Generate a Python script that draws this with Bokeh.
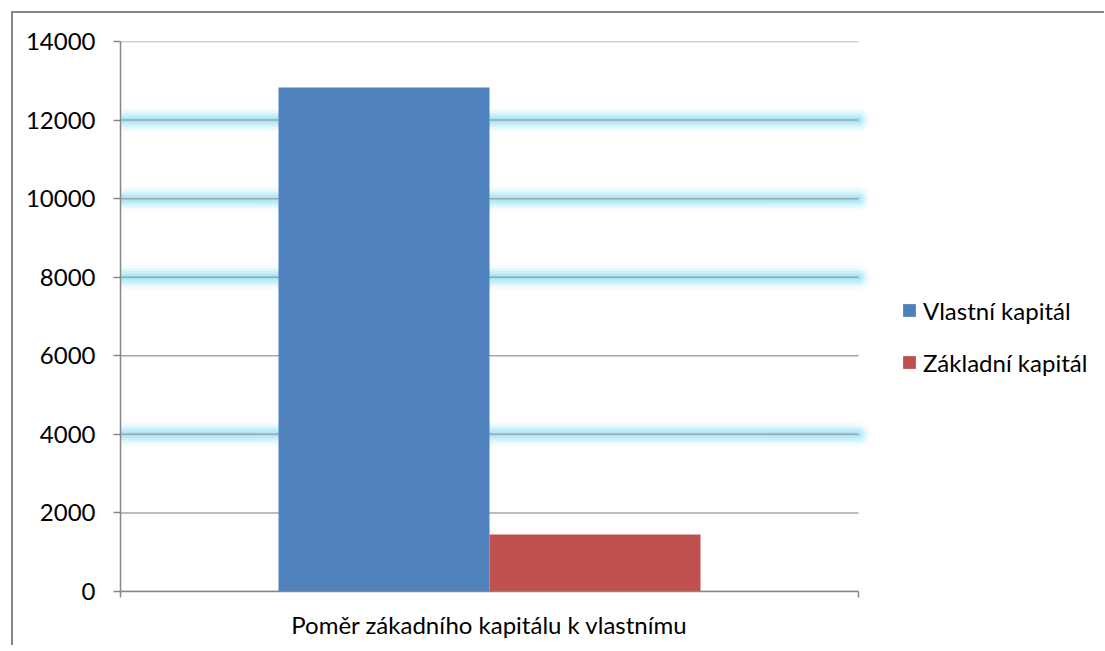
from bokeh.plotting import figure
from bokeh.models import (Range1d, FixedTicker, Legend, LegendItem)
from bokeh.embed import file_html
from bokeh.resources import INLINE

# ---- data ----
category = "Poměr zákadního kapitálu k vlastnímu"
series_names = ["Vlastní kapitál", "Základní kapitál"]
series_values = [12830, 1450]
series_colors = ["#4F81BD", "#C0504D"]
y_ticks = [0, 2000, 4000, 6000, 8000, 10000, 12000, 14000]
glow_levels = [4000, 8000, 10000, 12000]

FONT = "Lato"
FS = "24px"
AXIS_GRAY = "#868686"

W, H = 1104, 645
LEFT, TOP, PLOT_W, PLOT_H = 120, 41, 738, 550
# the category axis occupies data 0..1; the frame continues to the right to hold the legend
x_end = (W - LEFT) / PLOT_W

p = figure(width=W, height=H, output_backend="svg", toolbar_location=None,
           x_range=Range1d(0, x_end), y_range=Range1d(0, y_ticks[-1]),
           min_border_left=LEFT, min_border_top=TOP,
           min_border_right=0, min_border_bottom=H - TOP - PLOT_H)
p.outline_line_color = None
p.background_fill_color = "white"
p.border_fill_alpha = 0
# outer chart-area border (only left and top edges fall inside the window)
p.styles = {
    "background": ("linear-gradient(#868686,#868686) 11px 11px / 2px 100% no-repeat, "
                   "linear-gradient(#868686,#868686) 11px 11px / 100% 2px no-repeat, "
                   "white"),
}

# soft glow behind some gridlines
n = len(glow_levels)
for w, a in [(24, 0.08), (18, 0.14), (13, 0.2), (8, 0.28), (4, 0.3)]:
    p.segment(x0=[0] * n, x1=[1] * n, y0=glow_levels, y1=glow_levels,
              line_color="#7ADCF5", line_alpha=a, line_width=w, line_cap="round",
              level="image")

# gridlines (limited to the category span)
p.xgrid.visible = False
p.ygrid.visible = False
m = len(y_ticks)
p.segment(x0=[0] * m, x1=[1] * m, y0=y_ticks, y1=y_ticks,
          line_color="#A6A6A6", line_width=1.5, level="underlay")

# bars
bar_w = 211 / 738
renderers = []
for i, (name, val, col) in enumerate(zip(series_names, series_values, series_colors)):
    xc = 0.5 + (i - 0.5) * bar_w
    r = p.vbar(x=[xc], top=[val], bottom=0, width=bar_w,
               fill_color=col, line_color=None)
    renderers.append((name, r))

# y axis
ya = p.yaxis[0]
ya.ticker = FixedTicker(ticks=y_ticks, minor_ticks=[])
ya.axis_line_color = AXIS_GRAY
ya.axis_line_width = 1.5
ya.major_tick_line_color = AXIS_GRAY
ya.major_tick_line_width = 1.5
ya.major_tick_out = 7
ya.major_tick_in = 0
ya.minor_tick_line_color = None
ya.major_label_standoff = 18
ya.major_label_text_font = FONT
ya.major_label_text_font_size = FS
ya.major_label_text_color = "#000000"

# x axis
xa = p.xaxis[0]
xa.bounds = (0, 1)
xa.ticker = FixedTicker(ticks=[0.5], minor_ticks=[0, 1])
xa.major_label_overrides = {0.5: category}
xa.axis_line_color = AXIS_GRAY
xa.axis_line_width = 1.5
xa.major_tick_out = 0
xa.major_tick_in = 0
xa.minor_tick_line_color = AXIS_GRAY
xa.minor_tick_line_width = 1.5
xa.minor_tick_out = 6
xa.minor_tick_in = 0
xa.major_label_standoff = 12
xa.major_label_text_font = FONT
xa.major_label_text_font_size = FS
xa.major_label_text_color = "#000000"

# legend (inside the frame, to the right of the category span)
legend = Legend(items=[LegendItem(label=nm, renderers=[r]) for nm, r in renderers],
                location=(781, 214), padding=0, margin=0, spacing=22,
                glyph_width=16, glyph_height=16, label_height=30,
                label_standoff=6, border_line_color=None,
                background_fill_alpha=0,
                label_text_font=FONT, label_text_font_size=FS,
                label_text_color="#000000")
p.add_layout(legend, "center")

open("out.html", "w").write(file_html(p, INLINE))
